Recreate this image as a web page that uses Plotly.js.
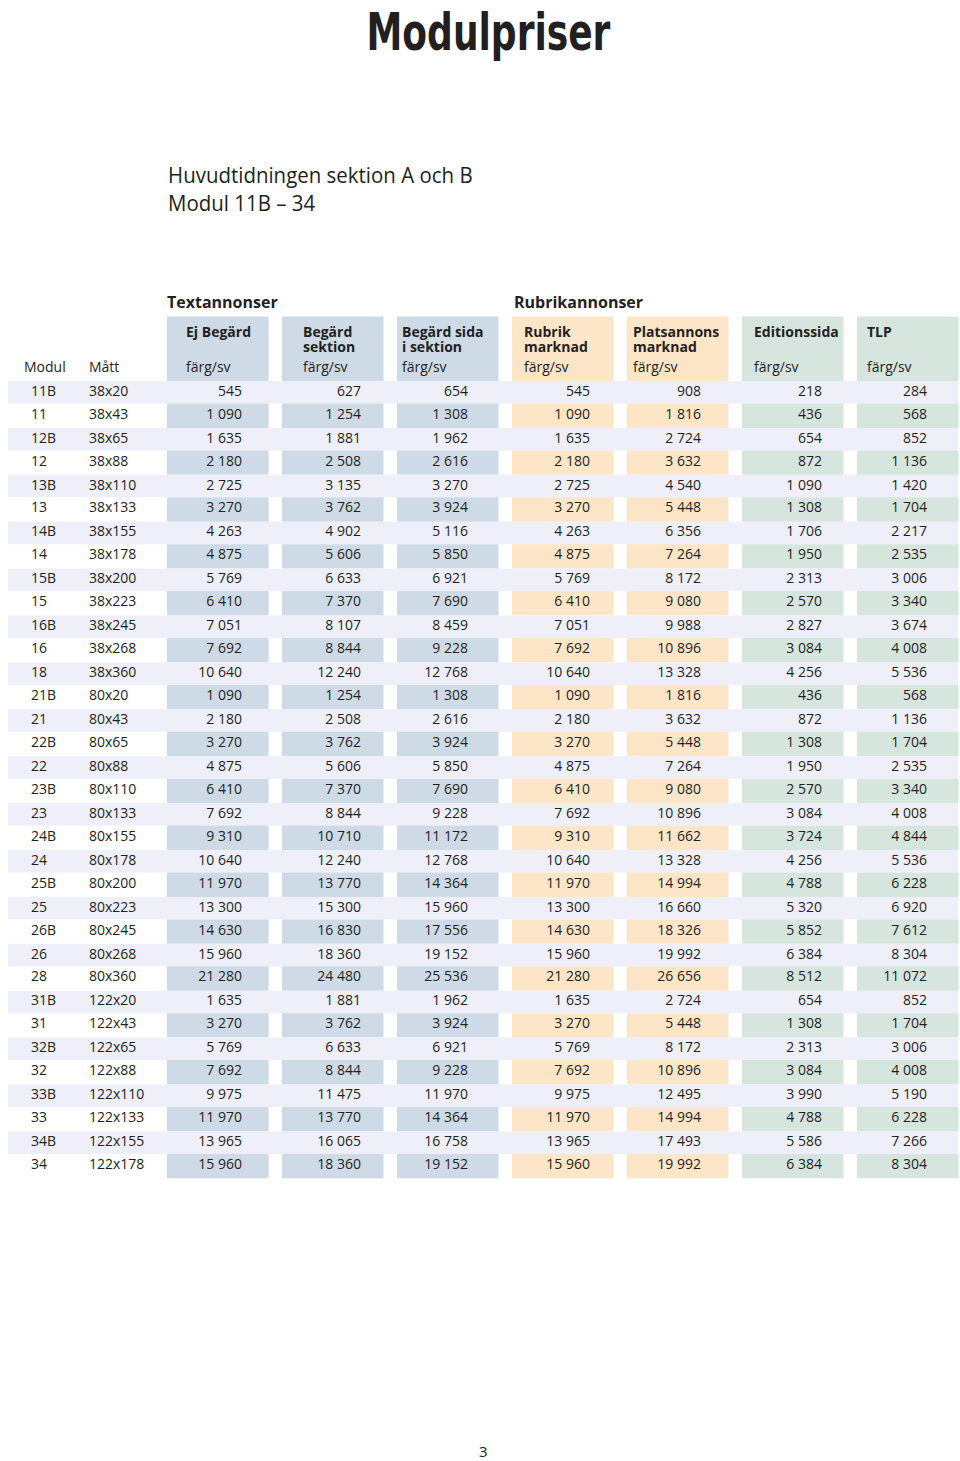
<!DOCTYPE html>
<html>
<head>
<meta charset="utf-8">
<script src="https://cdn.plot.ly/plotly-3.0.1.min.js"></script>
<style>
html,body{margin:0;padding:0;background:#fff;}
#chart{width:960px;height:1461px;}
/* condensed display faces for title and subtitle */
g.annotation[data-index="0"] text{transform-box:fill-box;transform-origin:center;transform:scaleX(0.77);}
g.annotation[data-index="1"] text, g.annotation[data-index="2"] text{transform-box:fill-box;transform-origin:left center;transform:scaleX(0.93);}
</style>
</head>
<body>
<div id="chart"></div>
<script>
// ---------- DATA ----------
const modul = ["11B","11","12B","12","13B","13","14B","14","15B","15","16B","16","18",
  "21B","21","22B","22","23B","23","24B","24","25B","25","26B","26","28",
  "31B","31","32B","32","33B","33","34B","34"];
const matt = ["38x20","38x43","38x65","38x88","38x110","38x133","38x155","38x178","38x200","38x223","38x245","38x268","38x360",
  "80x20","80x43","80x65","80x88","80x110","80x133","80x155","80x178","80x200","80x223","80x245","80x268","80x360",
  "122x20","122x43","122x65","122x88","122x110","122x133","122x155","122x178"];
const ejBegard = [545,1090,1635,2180,2725,3270,4263,4875,5769,6410,7051,7692,10640,
  1090,2180,3270,4875,6410,7692,9310,10640,11970,13300,14630,15960,21280,
  1635,3270,5769,7692,9975,11970,13965,15960];
const begardSektion = [627,1254,1881,2508,3135,3762,4902,5606,6633,7370,8107,8844,12240,
  1254,2508,3762,5606,7370,8844,10710,12240,13770,15300,16830,18360,24480,
  1881,3762,6633,8844,11475,13770,16065,18360];
const begardSidaISektion = [654,1308,1962,2616,3270,3924,5116,5850,6921,7690,8459,9228,12768,
  1308,2616,3924,5850,7690,9228,11172,12768,14364,15960,17556,19152,25536,
  1962,3924,6921,9228,11970,14364,16758,19152];
const rubrikMarknad = [545,1090,1635,2180,2725,3270,4263,4875,5769,6410,7051,7692,10640,
  1090,2180,3270,4875,6410,7692,9310,10640,11970,13300,14630,15960,21280,
  1635,3270,5769,7692,9975,11970,13965,15960];
const platsannonsMarknad = [908,1816,2724,3632,4540,5448,6356,7264,8172,9080,9988,10896,13328,
  1816,3632,5448,7264,9080,10896,11662,13328,14994,16660,18326,19992,26656,
  2724,5448,8172,10896,12495,14994,17493,19992];
const editionssida = [218,436,654,872,1090,1308,1706,1950,2313,2570,2827,3084,4256,
  436,872,1308,1950,2570,3084,3724,4256,4788,5320,5852,6384,8512,
  654,1308,2313,3084,3990,4788,5586,6384];
const tlp = [284,568,852,1136,1420,1704,2217,2535,3006,3340,3674,4008,5536,
  568,1136,1704,2535,3340,4008,4844,5536,6228,6920,7612,8304,11072,
  852,1704,3006,4008,5190,6228,7266,8304];

const columnHeaders = [["Ej Begärd"],["Begärd","sektion"],["Begärd sida","i sektion"],
  ["Rubrik","marknad"],["Platsannons","marknad"],["Editionssida"],["TLP"]];
const unitLabel = "färg/sv";
const groupLabels = ["Textannonser","Rubrikannonser"];
const title = "Modulpriser";
const subtitle = ["Huvudtidningen sektion A och B","Modul 11B – 34"];
const pageNumber = "3";

// ---------- LAYOUT CONSTANTS ----------
const W = 960, H = 1461;
const colLeft = [167,282,397,512,627,742,857];
const colWidth = 101.5;
const colRight = [242,361,468,590,701,822,927];
const hdrTextLeft = [186,303,402,524,633,754,867];
const colFill = ['#cedbe6','#cedbe6','#cedbe6','#fde5c8','#fde5c8','#d7e5df','#d7e5df'];
const stripeFill = '#eeeff8';
const tableTop = 381, pairH = 46.9, stripeH = 22.5;
const txt = '#231f20';
const bodyFont = '"Open Sans", "Noto Sans", sans-serif';

const fmt = v => String(v).replace(/\B(?=(\d{3})+(?!\d))/g, ' ');
const seriesList = [ejBegard, begardSektion, begardSidaISektion, rubrikMarknad, platsannonsMarknad, editionssida, tlp];

function rowTop(i){ const k=Math.floor(i/2); return tableTop + k*pairH + (i%2 ? stripeH : 0); }
function rowBot(i){ const k=Math.floor(i/2); return tableTop + k*pairH + (i%2 ? pairH : stripeH); }
function rowMid(i){ return (rowTop(i)+rowBot(i))/2 - (i%2 ? 0.6 : 0); }

const shapes = [];
modul.forEach((m,i)=>{
  if(i%2===0){
    shapes.push({type:'rect',xref:'x',yref:'y',x0:8,x1:958,y0:rowTop(i),y1:rowBot(i),fillcolor:stripeFill,line:{width:0},layer:'below'});
  } else {
    colLeft.forEach((cl,c)=>{
      shapes.push({type:'rect',xref:'x',yref:'y',x0:cl,x1:cl+colWidth,y0:rowTop(i),y1:rowBot(i),fillcolor:colFill[c],line:{width:0},layer:'below'});
    });
  }
});
colLeft.forEach((cl,c)=>{
  shapes.push({type:'rect',xref:'x',yref:'y',x0:cl,x1:cl+colWidth,y0:316.5,y1:tableTop,fillcolor:colFill[c],line:{width:0},layer:'below'});
});

const ys = modul.map((_,i)=>rowMid(i));
const traces = [];
traces.push({type:'scatter',mode:'text',x:modul.map(()=>31),y:ys,text:modul,textposition:'middle right',
  textfont:{family:bodyFont,size:14,color:txt},hoverinfo:'skip',showlegend:false});
traces.push({type:'scatter',mode:'text',x:matt.map(()=>89),y:ys,text:matt,textposition:'middle right',
  textfont:{family:bodyFont,size:14,color:txt},hoverinfo:'skip',showlegend:false});
seriesList.forEach((s,c)=>{
  traces.push({type:'scatter',mode:'text',x:s.map(()=>colRight[c]),y:ys,text:s.map(fmt),textposition:'middle left',
    textfont:{family:bodyFont,size:14,color:txt},hoverinfo:'skip',showlegend:false});
});

const ann = [];
ann.push({xref:'x',yref:'y',x:488,y:0,text:title,showarrow:false,xanchor:'center',yanchor:'top',
  font:{family:'"DejaVu Sans Condensed", "DejaVu Sans", sans-serif',size:52,weight:700,color:txt}});
subtitle.forEach((s,k)=>ann.push({xref:'x',yref:'y',x:166,y:174+28*k,text:s,showarrow:false,xanchor:'left',yanchor:'middle',
  font:{family:'"Open Sans", sans-serif',size:22,weight:400,color:txt}}));
ann.push({xref:'x',yref:'y',x:165,y:302,text:groupLabels[0],showarrow:false,xanchor:'left',yanchor:'middle',
  font:{family:bodyFont,size:16,weight:700,color:txt}});
ann.push({xref:'x',yref:'y',x:512,y:302,text:groupLabels[1],showarrow:false,xanchor:'left',yanchor:'middle',
  font:{family:bodyFont,size:16,weight:700,color:txt}});
columnHeaders.forEach((h,c)=>{
  h.forEach((line,k)=>ann.push({xref:'x',yref:'y',x:hdrTextLeft[c]-2,y:331+15*k,text:line,showarrow:false,xanchor:'left',yanchor:'middle',
    font:{family:bodyFont,size:14,weight:700,color:txt}}));
  ann.push({xref:'x',yref:'y',x:hdrTextLeft[c]-2,y:366,text:unitLabel,showarrow:false,xanchor:'left',yanchor:'middle',
    font:{family:bodyFont,size:14,color:txt}});
});
ann.push({xref:'x',yref:'y',x:22,y:366,text:'Modul',showarrow:false,xanchor:'left',yanchor:'middle',font:{family:bodyFont,size:14,color:txt}});
ann.push({xref:'x',yref:'y',x:87,y:366,text:'Mått',showarrow:false,xanchor:'left',yanchor:'middle',font:{family:bodyFont,size:14,color:txt}});
ann.push({xref:'x',yref:'y',x:483,y:1451,text:pageNumber,showarrow:false,xanchor:'center',yanchor:'middle',font:{family:bodyFont,size:15,color:txt}});

const layout = {
  width:W,height:H,margin:{l:0,r:0,t:0,b:0},paper_bgcolor:'#fff',plot_bgcolor:'#fff',
  xaxis:{range:[0,W],visible:false,fixedrange:true},
  yaxis:{range:[H,0],visible:false,fixedrange:true},
  shapes:shapes,annotations:ann,showlegend:false
};
Plotly.newPlot('chart',traces,layout,{staticPlot:true,displayModeBar:false});
</script>
</body>
</html>
